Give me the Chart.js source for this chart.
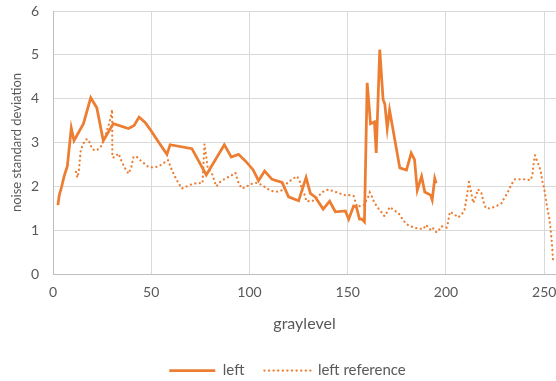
<!DOCTYPE html>
<html>
<head>
<meta charset="utf-8">
<script src="https://cdn.jsdelivr.net/npm/chart.js@4.4.1/dist/chart.umd.min.js"></script>
<style>
  html, body { margin: 0; padding: 0; background: #fff; }
  #wrap { width: 556px; height: 381px; }
</style>
</head>
<body>
<div id="wrap"><canvas id="chart1"></canvas></div>
<script>
// gray level / noise std for the measured curve
const leftX = [2.5, 3.2, 4.4, 5.6, 7.3, 9.3, 10.7, 15.5, 19.2, 22.3, 25.6, 30.7, 38.4, 41.3, 43.8, 47, 49.4, 53.7, 58, 59.6,
  70.7, 78, 87.2, 90.7, 94.4, 97.9, 101.8, 104.6, 107.7, 111.5, 116.6, 119.9, 125, 128.8, 131, 133.5, 137.5, 140.8, 143.7,
  148.8, 150.5, 153, 154.4, 156, 157.3, 158.5, 159.9, 161.6, 163.6, 164.5, 166.3, 168, 168.9, 170.1, 171.3, 176.5, 179.9,
  182.3, 184, 185.4, 187.6, 189.2, 192.2, 193, 194.3, 195];
const leftY = [1.57, 1.8, 1.99, 2.22, 2.46, 3.33, 3.04, 3.43, 4.02, 3.79, 3.04, 3.43, 3.32, 3.39, 3.58, 3.45, 3.30, 3.01, 2.73, 2.95,
  2.86, 2.26, 2.95, 2.67, 2.73, 2.58, 2.38, 2.13, 2.35, 2.16, 2.09, 1.76, 1.67, 2.20, 1.84, 1.75, 1.48, 1.66, 1.42,
  1.44, 1.25, 1.55, 1.53, 1.25, 1.25, 1.19, 4.36, 3.43, 3.47, 2.76, 5.12, 3.98, 3.87, 3.32, 3.74, 2.42, 2.37,
  2.76, 2.61, 1.91, 2.23, 1.87, 1.80, 1.69, 2.18, 2.07];

// reference curve
const refX = [11.7, 12.4, 13.1, 14.1, 15.5, 16.8, 18, 18.9, 20.2, 22.3, 24.3, 26.5, 28.2, 29.4, 30.1, 30.2, 31.2, 33.3, 35, 36.7,
  38.4, 39.8, 40.9, 42.3, 44.3, 46.5, 48.6, 51.1, 54, 58.5, 60.5, 63, 65.6, 68.1, 70.7, 73.7, 76.1, 77.1, 78.8, 80.9,
  83.1, 85.1, 87.7, 90.2, 92.8, 94.4, 96.2, 98, 100.4, 103.5, 106.4, 108.9, 111.5, 114, 116.6, 119.1, 121.7, 124.2, 125.5,
  126.8, 128.4, 128.9, 131.9, 134.7, 137.5, 140.3, 143.2, 145.9, 148, 150.5, 153, 153.9, 154.8, 156.8, 158.2, 160.4, 161.2,
  162.4, 163.3, 165, 167, 168.7, 170.1, 171.4, 173.4, 176, 178.5, 180.6, 183.6, 186.2, 188.7, 189.6, 190.8, 192.5, 193.5,
  195.2, 196.4, 197.6, 200.3, 201, 202, 204, 206.3, 208.3, 209.5, 210, 210.9, 211.7, 212.9, 213.4, 213.9, 215.4, 216.3,
  218, 219.3, 220.3, 222.7, 225.6, 228.2, 229.5, 231.2, 233.4, 235, 237.5, 240.2, 243.1, 244, 244.5, 245.3, 246.5, 247.3,
  248.2, 249.1, 249.9, 250.8, 251.6, 252.6, 253.3, 253.8, 254.3, 254.5];
const refY = [2.33, 2.20, 2.33, 2.82, 2.98, 3.07, 3.07, 2.96, 2.84, 2.82, 2.90, 3.13, 3.38, 3.58, 3.75, 2.66, 2.66, 2.75, 2.56, 2.41,
  2.29, 2.43, 2.66, 2.69, 2.60, 2.52, 2.44, 2.43, 2.46, 2.60, 2.37, 2.14, 1.95, 2.00, 2.05, 2.08, 2.07, 2.96, 2.41, 2.29,
  2.00, 2.10, 2.18, 2.23, 2.31, 2.08, 1.95, 1.98, 2.05, 2.08, 2.03, 1.95, 1.89, 1.88, 1.91, 2.07, 2.16, 2.23, 2.13,
  1.91, 1.78, 1.66, 1.66, 1.76, 1.88, 1.93, 1.88, 1.84, 1.80, 1.80, 1.78, 1.65, 1.53, 1.56, 1.57, 1.76, 1.86,
  1.76, 1.65, 1.53, 1.42, 1.32, 1.42, 1.53, 1.46, 1.38, 1.21, 1.12, 1.06, 1.03, 1.03, 1.12, 1.08, 0.99, 1.04,
  0.95, 1.0, 1.09, 1.06, 1.17, 1.42, 1.37, 1.29, 1.38, 1.47, 1.61, 1.85, 2.10, 1.85, 1.72, 1.62, 1.80, 1.93,
  1.85, 1.62, 1.50, 1.50, 1.55, 1.61, 1.72, 1.84, 2.05, 2.16, 2.16, 2.16, 2.14, 2.26, 2.48, 2.71, 2.56, 2.48,
  2.35, 2.10, 1.97, 1.72, 1.50, 1.27, 1.0, 0.77, 0.47, 0.32];

const xTicks = [0, 50, 100, 150, 200, 250];
const yTicks = [0, 1, 2, 3, 4, 5, 6];

const orange = '#ED7D31';
const textColor = '#595959';
const font = 'Lato, "Liberation Sans", sans-serif';

function toPoints(xs, ys) {
  return xs.map((x, i) => ({ x: x, y: ys[i] }));
}

renderChart();

function renderChart() {
  const ctx = document.getElementById('chart1');

  new Chart(ctx, {
    type: 'line',
    data: {
      datasets: [{
        label: 'left',
        data: toPoints(leftX, leftY),
        borderColor: orange,
        backgroundColor: orange,
        borderWidth: 2.75,
        pointRadius: 0,
        tension: 0
      }, {
        label: 'left reference',
        data: toPoints(refX, refY),
        borderColor: orange,
        backgroundColor: orange,
        borderWidth: 2.25,
        borderDash: [0.1, 4.5],
        borderCapStyle: 'round',
        pointRadius: 0,
        tension: 0
      }]
    },
    options: {
      responsive: true,
      maintainAspectRatio: false,
      animation: false,
      // left padding keeps the legend centred where the original has it
      layout: { padding: { top: 11, left: 19, right: 0, bottom: -7 } },
      plugins: {
        tooltip: { enabled: false },
        legend: {
          position: 'bottom',
          labels: {
            color: textColor,
            font: { family: font, size: 15 },
            boxWidth: 46,
            boxHeight: 0,
            padding: 20
          }
        }
      },
      scales: {
        x: {
          type: 'linear',
          min: 0,
          max: 256,
          afterBuildTicks: s => { s.ticks = xTicks.map(v => ({ value: v })); },
          afterFit: s => { s.height = 69; s.paddingLeft = 0; s.paddingRight = 0; },
          ticks: { color: textColor, font: { family: font, size: 14 }, padding: 10, maxRotation: 0 },
          grid: { color: '#d9d9d9', drawTicks: false },
          border: { color: '#bfbfbf' },
          title: {
            display: true,
            text: 'graylevel',
            color: textColor,
            font: { family: font, size: 16 },
            padding: { top: 4, bottom: 10 }
          }
        },
        y: {
          min: 0,
          max: 6,
          afterBuildTicks: s => { s.ticks = yTicks.map(v => ({ value: v })); },
          afterFit: s => { s.width = 34; s.paddingTop = 0; s.paddingBottom = 0; },
          ticks: { color: textColor, font: { family: font, size: 14 }, padding: 14 },
          grid: { color: '#d9d9d9', drawTicks: false },
          border: { color: '#bfbfbf' },
          title: {
            display: true,
            text: 'noise standard deviation',
            color: textColor,
            font: { family: font, size: 13 },
            padding: { top: -10, bottom: 0 }
          }
        }
      }
    }
  });
}
</script>
</body>
</html>
